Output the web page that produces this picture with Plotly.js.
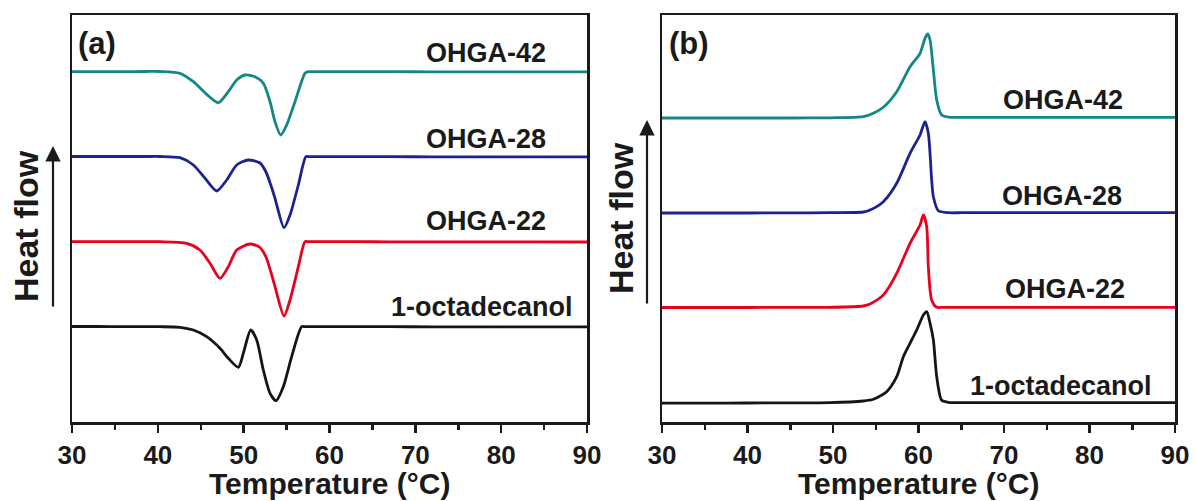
<!DOCTYPE html>
<html>
<head>
<meta charset="utf-8">
<script src="https://cdn.plot.ly/plotly-3.0.1.min.js"></script>
<style>html,body{margin:0;padding:0;background:#fff;}#chart{width:1195px;height:501px;}</style>
</head>
<body>
<div id="chart"></div>
<script>
// ---- Panel (a): heating (melting) DSC curves ----
const tempA42 = [30, 33, 36, 38.5, 40.25, 42.58, 44.14, 45.69, 47.05, 48.21, 49.19, 50.16, 51.32, 52.29, 53.07, 53.65, 54.31, 55.01, 55.98, 57.15, 57.53, 58.5, 60, 63, 67, 72, 78, 84, 90];
const flowA42 = [35.43, 35.43, 35.44, 35.45, 35.45, 35.27, 34.43, 33.17, 32.33, 33.43, 34.6, 35.1, 34.93, 34.27, 32.43, 30.43, 29.1, 30.1, 32.43, 35.27, 35.43, 35.43, 35.43, 35.43, 35.43, 35.42, 35.42, 35.41, 35.41];

const tempA28 = [30, 33, 36, 38.5, 40.25, 42.58, 44.14, 45.50, 46.86, 48.02, 49.19, 50.54, 51.90, 52.6, 53.2, 53.65, 54.70, 55.40, 56.37, 57.26, 57.73, 58.5, 60, 63, 67, 72, 78, 84, 90];
const flowA28 = [26.95, 26.95, 26.95, 26.95, 26.95, 26.83, 26.1, 24.77, 23.5, 24.6, 26.1, 26.6, 26.3, 25.4, 24.0, 22.77, 19.83, 21.1, 24.1, 26.93, 26.93, 26.93, 26.93, 26.93, 26.93, 26.92, 26.92, 26.91, 26.91];

const tempA22 = [30, 33, 36, 38.5, 40.25, 43.36, 44.91, 46.08, 47.24, 48.21, 49.19, 50.74, 51.90, 52.6, 53.2, 53.65, 54.70, 55.40, 56.37, 57.15, 57.6, 58.5, 60, 63, 67, 72, 78, 84, 90];
const flowA22 = [18.43, 18.43, 18.43, 18.43, 18.43, 18.27, 17.6, 16.27, 14.77, 15.93, 17.6, 18.2, 17.85, 16.9, 15.3, 13.93, 11.0, 12.6, 15.93, 18.43, 18.43, 18.43, 18.43, 18.43, 18.42, 18.42, 18.41, 18.41, 18.4];

const tempAOct = [30, 33, 36, 38.5, 40.25, 42.58, 44.14, 45.69, 47.24, 48.21, 49.38, 49.96, 50.82, 51.52, 52.29, 53.07, 53.77, 54.62, 55.59, 56.76, 57.2, 58, 60, 63, 67, 72, 78, 84, 90];
const flowAOct = [9.95, 9.95, 9.94, 9.94, 9.93, 9.87, 9.6, 8.93, 7.77, 6.77, 5.87, 7.27, 9.6, 8.6, 5.6, 3.27, 2.53, 3.93, 6.93, 9.93, 9.93, 9.93, 9.93, 9.93, 9.93, 9.92, 9.92, 9.91, 9.91];

// ---- Panel (b): cooling (crystallization) DSC curves ----
const tempB42 = [30, 35, 40, 45, 49.65, 53.55, 54.72, 55.89, 57.45, 59.01, 60.18, 60.76, 61.07, 61.35, 61.74, 62.13, 62.71, 63.68, 65, 67, 70, 75, 80, 85, 90];
const flowB42 = [30.8, 30.8, 30.8, 30.8, 30.82, 30.93, 31.27, 31.87, 33.43, 35.93, 37.27, 38.77, 39.2, 38.6, 35.6, 32.6, 31.1, 30.87, 30.87, 30.87, 30.87, 30.87, 30.87, 30.87, 30.87];

const tempB28 = [30, 35, 40, 45, 49.65, 53.55, 54.33, 55.89, 57.45, 59.01, 60.18, 60.76, 61.15, 61.54, 61.74, 62.32, 63.49, 65, 67, 70, 75, 80, 85, 90];
const flowB28 = [21.3, 21.3, 21.3, 21.31, 21.33, 21.4, 21.6, 22.43, 24.27, 27.27, 29.1, 30.43, 29.27, 24.6, 22.93, 21.53, 21.33, 21.33, 21.33, 21.33, 21.33, 21.33, 21.33, 21.33];

const tempB22 = [30, 35, 40, 45, 49.65, 53.55, 54.33, 55.89, 57.45, 59.01, 60.18, 60.57, 60.96, 61.15, 61.54, 62.13, 63, 65, 67, 70, 75, 80, 85, 90];
const flowB22 = [11.85, 11.85, 11.85, 11.86, 11.87, 12.0, 12.2, 13.1, 15.27, 18.27, 20.1, 21.1, 19.93, 15.93, 12.6, 11.87, 11.87, 11.87, 11.87, 11.87, 11.87, 11.87, 11.87, 11.87];

const tempBOct = [30, 35, 40, 45, 49.65, 53.55, 54.72, 56.28, 57.45, 58.23, 59.01, 59.79, 60.57, 60.96, 61.35, 61.74, 62.13, 62.71, 63.49, 65, 67, 70, 75, 80, 85, 90];
const flowBOct = [2.28, 2.29, 2.3, 2.31, 2.33, 2.5, 2.67, 3.43, 4.93, 6.93, 8.27, 9.6, 11.1, 11.43, 10.27, 8.6, 4.93, 2.57, 2.37, 2.33, 2.33, 2.33, 2.33, 2.33, 2.33, 2.33];

const seriesNames = ['OHGA-42', 'OHGA-28', 'OHGA-22', '1-octadecanol'];
const seriesColors = ['#138686', '#1c2390', '#e8001c', '#151515'];
const xTickVals = [30, 40, 50, 60, 70, 80, 90];
const panelLabels = ['(a)', '(b)'];
const xTitle = 'Temperature (°C)';
const yTitle = 'Heat flow';

const FONT = 'Liberation Sans, Arial, Helvetica, sans-serif';
const TXT = '#1a1a1a';

const setsA = [[tempA42, flowA42], [tempA28, flowA28], [tempA22, flowA22], [tempAOct, flowAOct]];
const setsB = [[tempB42, flowB42], [tempB28, flowB28], [tempB22, flowB22], [tempBOct, flowBOct]];

const traces = [];
setsA.forEach((s, i) => traces.push({
  x: s[0], y: s[1], xaxis: 'x', yaxis: 'y', type: 'scatter', mode: 'lines',
  name: seriesNames[i], showlegend: false,
  line: {color: seriesColors[i], width: 2.8, shape: 'spline', smoothing: 0.7}
}));
setsB.forEach((s, i) => traces.push({
  x: s[0], y: s[1], xaxis: 'x2', yaxis: 'y2', type: 'scatter', mode: 'lines',
  name: seriesNames[i], showlegend: false,
  line: {color: seriesColors[i], width: 2.8, shape: 'spline', smoothing: 0.7}
}));

function xAxis(domain, anchor) {
  return {
    domain: domain, anchor: anchor, range: [30, 90],
    showgrid: false, zeroline: false, showline: true, mirror: true,
    linecolor: TXT, linewidth: 2.5,
    ticks: 'outside', ticklen: 8, tickwidth: 2.5, tickcolor: TXT,
    tickvals: xTickVals,
    minor: {ticks: 'outside', dtick: 5, tick0: 35, ticklen: 5, tickwidth: 2.5, tickcolor: TXT, showgrid: false},
    tickfont: {family: FONT, size: 26, color: TXT, weight: 'bold'},
    fixedrange: true
  };
}
function yAxis(domain, anchor) {
  return {
    domain: domain, anchor: anchor, range: [0.4, 41.1],
    showgrid: false, zeroline: false, showline: true, mirror: true,
    linecolor: TXT, linewidth: 2.5,
    ticks: '', showticklabels: false, fixedrange: true
  };
}

const W = 1195, H = 501;
const yDom = [1 - 422 / H, 1 - 15 / H];

const labelFont = {family: FONT, size: 27, color: TXT, weight: 'bold'};
const titleFont = {family: FONT, size: 30, color: TXT, weight: 'bold'};
const annotations = [
  // curve labels, panel (a)
  {xref: 'x', yref: 'y', x: 85.4, y: 37.35, text: seriesNames[0], showarrow: false, xanchor: 'right', yanchor: 'middle', font: labelFont},
  {xref: 'x', yref: 'y', x: 85.4, y: 28.7, text: seriesNames[1], showarrow: false, xanchor: 'right', yanchor: 'middle', font: labelFont},
  {xref: 'x', yref: 'y', x: 85.4, y: 20.5, text: seriesNames[2], showarrow: false, xanchor: 'right', yanchor: 'middle', font: labelFont},
  {xref: 'x', yref: 'y', x: 88.6, y: 11.95, text: seriesNames[3], showarrow: false, xanchor: 'right', yanchor: 'middle', font: labelFont},
  // curve labels, panel (b)
  {xref: 'x2', yref: 'y2', x: 84.2, y: 32.6, text: seriesNames[0], showarrow: false, xanchor: 'right', yanchor: 'middle', font: labelFont},
  {xref: 'x2', yref: 'y2', x: 84.0, y: 23.0, text: seriesNames[1], showarrow: false, xanchor: 'right', yanchor: 'middle', font: labelFont},
  {xref: 'x2', yref: 'y2', x: 84.4, y: 13.7, text: seriesNames[2], showarrow: false, xanchor: 'right', yanchor: 'middle', font: labelFont},
  {xref: 'x2', yref: 'y2', x: 87.5, y: 4.0, text: seriesNames[3], showarrow: false, xanchor: 'right', yanchor: 'middle', font: labelFont},
  // x-axis titles
  {xref: 'x domain', yref: 'paper', x: 0.5, y: 1 - 483 / H, text: xTitle, showarrow: false, xanchor: 'center', yanchor: 'middle', borderpad: 0, font: titleFont},
  {xref: 'x2 domain', yref: 'paper', x: 0.5, y: 1 - 483 / H, text: xTitle, showarrow: false, xanchor: 'center', yanchor: 'middle', borderpad: 0, font: titleFont},
  // panel letters
  {xref: 'paper', yref: 'paper', x: 76 / W, y: 1 - 43 / H, text: panelLabels[0], showarrow: false, xanchor: 'left', yanchor: 'middle', font: {family: FONT, size: 31, color: TXT, weight: 'bold'}},
  {xref: 'paper', yref: 'paper', x: 667 / W, y: 1 - 43 / H, text: panelLabels[1], showarrow: false, xanchor: 'left', yanchor: 'middle', font: {family: FONT, size: 31, color: TXT, weight: 'bold'}},
  // "Heat flow" y titles
  {xref: 'paper', yref: 'paper', x: 26 / W, y: 1 - 226 / H, text: yTitle, textangle: -90, showarrow: false, xanchor: 'center', yanchor: 'middle', font: {family: FONT, size: 34, color: TXT, weight: 'bold'}},
  {xref: 'paper', yref: 'paper', x: 621 / W, y: 1 - 218 / H, text: yTitle, textangle: -90, showarrow: false, xanchor: 'center', yanchor: 'middle', font: {family: FONT, size: 34, color: TXT, weight: 'bold'}},
  // arrows
  {xref: 'paper', yref: 'paper', x: 53 / W, y: 1 - 146 / H, ax: 0, ay: 162, text: '', showarrow: true, arrowhead: 2, arrowsize: 1.4, arrowwidth: 2.2, arrowcolor: TXT},
  {xref: 'paper', yref: 'paper', x: 647 / W, y: 1 - 120 / H, ax: 0, ay: 185, text: '', showarrow: true, arrowhead: 2, arrowsize: 1.4, arrowwidth: 2.2, arrowcolor: TXT}
];

const layout = {
  width: W, height: H,
  margin: {l: 0, r: 0, t: 0, b: 0},
  paper_bgcolor: '#ffffff', plot_bgcolor: '#ffffff',
  showlegend: false,
  font: {family: FONT, color: TXT},
  xaxis: xAxis([72 / W, 587 / W], 'y'),
  yaxis: yAxis(yDom, 'x'),
  xaxis2: xAxis([662 / W, 1175 / W], 'y2'),
  yaxis2: yAxis(yDom, 'x2'),
  annotations: annotations
};

Plotly.newPlot('chart', traces, layout, {displayModeBar: false, staticPlot: true});
</script>
</body>
</html>
